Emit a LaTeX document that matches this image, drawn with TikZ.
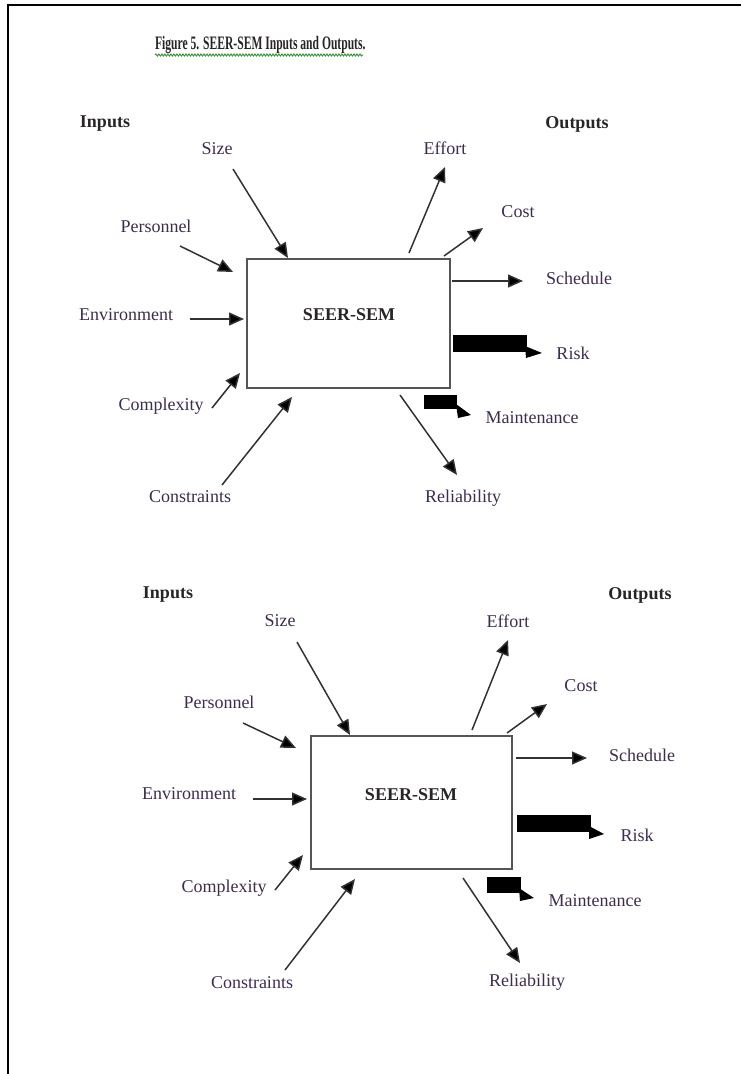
\documentclass[tikz,border=0pt]{standalone}
\usepackage{fontspec}
\setmainfont{Liberation Serif}
\usetikzlibrary{arrows.meta,decorations.pathmorphing}
\definecolor{labcol}{RGB}{62,44,78}
\definecolor{boldcol}{RGB}{40,36,40}
\definecolor{linecol}{RGB}{50,50,50}
\definecolor{boxcol}{RGB}{85,85,85}
\definecolor{squig}{RGB}{60,150,60}
\tikzset{
  lab/.style={inner sep=0pt, text=labcol, font=\fontsize{18}{20}\selectfont},
  blab/.style={inner sep=0pt, text=boldcol, font=\fontsize{18}{20}\selectfont\bfseries},
  arr/.style={draw=linecol, line width=1.5pt, -{Triangle[length=15pt,width=13pt,fill=black]}},
  mbox/.style={draw=boxcol, line width=2pt, fill=white},
  fatbar/.style={fill=black, draw=none},
  fathead/.style={fill=black, draw=none},
  framecol/.style={draw=black, line width=2.2pt}
}
\begin{document}
\begin{tikzpicture}[x=1pt,y=-1pt]
\useasboundingbox (0,0) rectangle (740,1074);
% frame
\coordinate (fbl) at (8,1080);
\coordinate (ftl) at (8,5);
\coordinate (ftr) at (745,5);
\draw[framecol] (fbl) -- (ftl) -- (ftr);
% title
\node[blab, xscale=0.61, anchor=west, font=\fontsize{19}{21}\selectfont\bfseries] (title) at (155,45) {Figure 5. SEER-SEM Inputs and Outputs.};
\coordinate (sqA) at (155,55);
\coordinate (sqB) at (363,55);
\draw[squig, line width=1pt, decorate, decoration={snake, amplitude=1pt, segment length=3pt}] (sqA) -- (sqB);

% ================= Diagram 1 =================
\node[mbox, minimum width=203pt, minimum height=129pt, inner sep=0pt] (boxA) at (348.5,323.5) {};
\node[blab] (semA) at (349,315) {SEER-SEM};
\node[blab] (inA) at (105,124) {Inputs};
\node[blab] (outA) at (577,124) {Outputs};
\node[lab] (sizeA) at (217,149) {Size};
\node[lab] (persA) at (156,226) {Personnel};
\node[lab] (envA) at (126,315) {Environment};
\node[lab] (cmplxA) at (161,406) {Complexity};
\node[lab] (consA) at (190,497) {Constraints};
\node[lab] (effA) at (445,148) {Effort};
\node[lab] (costA) at (518,212) {Cost};
\node[lab] (schedA) at (579,278) {Schedule};
\node[lab] (riskA) at (573,353) {Risk};
\node[lab] (maintA) at (532,418) {Maintenance};
\node[lab] (relA) at (463,498) {Reliability};

\coordinate (a1s) at (233,169); \coordinate (a1e) at (288,258);
\coordinate (a2s) at (180,246); \coordinate (a2e) at (233,272);
\coordinate (a3s) at (190,319); \coordinate (a3e) at (244,319);
\coordinate (a4s) at (212,408); \coordinate (a4e) at (240,373);
\coordinate (a5s) at (222,485); \coordinate (a5e) at (292,397);
\coordinate (a6s) at (409,253); \coordinate (a6e) at (445,167);
\coordinate (a7s) at (444,256); \coordinate (a7e) at (483,228);
\coordinate (a8s) at (452,281); \coordinate (a8e) at (523,281);
\coordinate (a9s) at (400,395); \coordinate (a9e) at (457,475);
\draw[arr] (a1s) -- (a1e);
\draw[arr] (a2s) -- (a2e);
\draw[arr] (a3s) -- (a3e);
\draw[arr] (a4s) -- (a4e);
\draw[arr] (a5s) -- (a5e);
\draw[arr] (a6s) -- (a6e);
\draw[arr] (a7s) -- (a7e);
\draw[arr] (a8s) -- (a8e);
\draw[arr] (a9s) -- (a9e);
% risk / maintenance block arrows
\coordinate (rA1) at (453,335); \coordinate (rA2) at (527,352);
\fill[fatbar] (rA1) rectangle (rA2);
\coordinate (rAt1) at (525,346); \coordinate (rAt2) at (526,358); \coordinate (rAt3) at (542,353);
\fill[fathead] (rAt1) -- (rAt2) -- (rAt3) -- cycle;
\coordinate (mA1) at (424,395); \coordinate (mA2) at (457,409);
\fill[fatbar] (mA1) rectangle (mA2);
\coordinate (mAt1) at (456,404); \coordinate (mAt2) at (458,418); \coordinate (mAt3) at (471,415);
\fill[fathead] (mAt1) -- (mAt2) -- (mAt3) -- cycle;

% ================= Diagram 2 =================
\node[mbox, minimum width=201pt, minimum height=133pt, inner sep=0pt] (boxB) at (411.5,802.5) {};
\node[blab] (semB) at (411,795) {SEER-SEM};
\node[blab] (inB) at (168,595) {Inputs};
\node[blab] (outB) at (640,595) {Outputs};
\node[lab] (sizeB) at (280,621) {Size};
\node[lab] (persB) at (219,702) {Personnel};
\node[lab] (envB) at (189,794) {Environment};
\node[lab] (cmplxB) at (224,888) {Complexity};
\node[lab] (consB) at (252,983) {Constraints};
\node[lab] (effB) at (508,621) {Effort};
\node[lab] (costB) at (581,686) {Cost};
\node[lab] (schedB) at (642,755) {Schedule};
\node[lab] (riskB) at (637,835) {Risk};
\node[lab] (maintB) at (595,901) {Maintenance};
\node[lab] (relB) at (527,982) {Reliability};

\coordinate (b1s) at (297,642); \coordinate (b1e) at (350,735);
\coordinate (b2s) at (243,723); \coordinate (b2e) at (296,748);
\coordinate (b3s) at (253,799); \coordinate (b3e) at (307,799);
\coordinate (b4s) at (275,890); \coordinate (b4e) at (303,855);
\coordinate (b5s) at (285,970); \coordinate (b5e) at (355,879);
\coordinate (b6s) at (472,730); \coordinate (b6e) at (508,640);
\coordinate (b7s) at (507,733); \coordinate (b7e) at (547,704);
\coordinate (b8s) at (516,758); \coordinate (b8e) at (587,758);
\coordinate (b9s) at (463,878); \coordinate (b9e) at (520,963);
\draw[arr] (b1s) -- (b1e);
\draw[arr] (b2s) -- (b2e);
\draw[arr] (b3s) -- (b3e);
\draw[arr] (b4s) -- (b4e);
\draw[arr] (b5s) -- (b5e);
\draw[arr] (b6s) -- (b6e);
\draw[arr] (b7s) -- (b7e);
\draw[arr] (b8s) -- (b8e);
\draw[arr] (b9s) -- (b9e);
\coordinate (rB1) at (517,815); \coordinate (rB2) at (591,832);
\fill[fatbar] (rB1) rectangle (rB2);
\coordinate (rBt1) at (589,826); \coordinate (rBt2) at (589,839); \coordinate (rBt3) at (604,834);
\fill[fathead] (rBt1) -- (rBt2) -- (rBt3) -- cycle;
\coordinate (mB1) at (487,877); \coordinate (mB2) at (521,893);
\fill[fatbar] (mB1) rectangle (mB2);
\coordinate (mBt1) at (519,888); \coordinate (mBt2) at (520,901); \coordinate (mBt3) at (534,898);
\fill[fathead] (mBt1) -- (mBt2) -- (mBt3) -- cycle;
\end{tikzpicture}
\end{document}
